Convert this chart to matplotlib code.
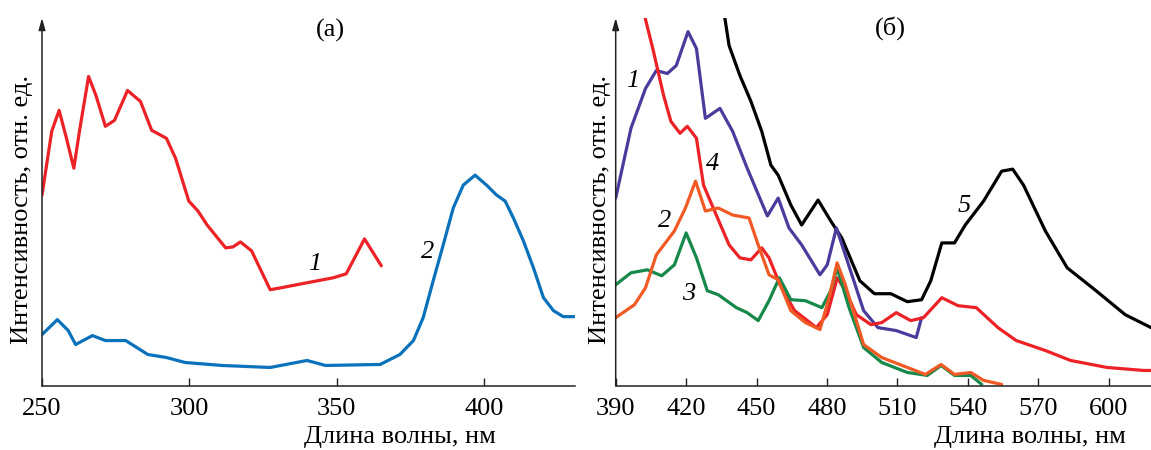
import matplotlib
matplotlib.use("Agg")
import matplotlib.pyplot as plt

plt.rcParams['font.family'] = ['Liberation Serif', 'DejaVu Serif']

# ---------- Panel (а) data ----------
a1_x = [250, 253.3, 255.8, 258.3, 260.8, 262.7, 265.8, 268.3, 271.5, 274.6, 279, 283.4,
        287.2, 292.2, 295.3, 299.8, 302.9, 306, 312.3, 314.8, 317.3, 321.1, 327.4, 331.1,
        339.9, 348.8, 353.2, 359.4, 365.1]
a1_y = [190, 254, 275, 247, 217, 254, 309, 290, 259, 265, 295, 284,
        255, 247, 227, 184, 174, 160, 137, 138, 143, 134, 95, 97,
        102, 107, 111, 146, 119]

a2_x = [250, 255.2, 258.9, 261.4, 267.1, 271.5, 278.4, 285.9, 292.2, 298.5, 311.1, 327.4,
        339.9, 346.2, 364.7, 371.4, 376, 379.3, 382.7, 386.1, 389.5, 392.9, 396.9, 400.8,
        404.2, 407.1, 409.9, 413.3, 416.7, 420.1, 423.5, 426.8, 430.5]
a2_y = [50, 65, 54, 40, 49, 44, 44, 30, 27, 22, 19, 17,
        24, 19, 20, 30, 44, 67, 104, 140, 177, 200, 210, 200,
        190, 184, 167, 144, 117, 87, 74, 68, 68]

# ---------- Panel (б) data ----------
b1_x = [390, 396.5, 402.7, 407.3, 412, 415.8, 420.8, 424.4, 428.2, 434.4, 439.8, 446,
        454.6, 459.2, 463.8, 469.2, 477, 480.1, 484, 487.8, 495.6, 501.7, 509.5, 518, 520.3]
b1_y = [187, 257, 297, 315, 312, 320, 354, 337, 267, 277, 254, 217,
        169, 187, 157, 140, 110, 120, 157, 130, 74, 57, 54, 47, 67]

b2_x = [390, 398, 402.7, 407.3, 415, 419.7, 424, 428.2, 433.7, 439.8, 446.8, 450.7,
        455.3, 459.2, 464.6, 470.8, 477, 480.9, 484.3, 487.8, 495.6, 503.3, 514.2, 521.9,
        528.6, 534.3, 541.2, 546.7, 554.4]
b2_y = [67, 80, 97, 130, 154, 177, 204, 174, 177, 170, 167, 140,
        110, 105, 74, 62, 55, 87, 122, 100, 40, 27, 17, 10,
        20, 10, 12, 4, 0]

b3_x = [390, 396.5, 403.5, 409.6, 415, 420, 424.4, 429, 433.7, 441.4, 446, 450.7,
        455.3, 459.7, 464.6, 470.8, 477.8, 481.6, 484.3, 489.4, 495.6, 503.3, 514.2, 522.7,
        528.6, 534.3, 541.2, 545.9]
b3_y = [100, 112, 115, 109, 120, 152, 127, 94, 90, 77, 72, 64,
        84, 107, 85, 84, 77, 94, 117, 77, 37, 22, 12, 9,
        19, 9, 9, 0]

b4_x = [402.4, 405.8, 410.4, 413.5, 417.4, 420.5, 424.4, 427.4, 432.1, 438.3, 442.9, 447.6,
        452.2, 455.3, 460, 466.2, 475.5, 480.1, 484.4, 487.8, 492.5, 498.7, 503.3, 509.5,
        515.7, 521.1, 528.9, 535.8, 543.6, 552.8, 560.6, 573, 583.8, 599.3, 614.8, 618]
b4_y = [369, 337, 290, 264, 252, 259, 247, 200, 174, 140, 127, 125,
        137, 127, 100, 74, 57, 70, 107, 94, 70, 60, 62, 72,
        64, 67, 87, 79, 77, 57, 44, 34, 24, 17, 14, 14]

b5_x = [436.4, 438.3, 442.9, 447.6, 452.2, 456.1, 459.2, 464.6, 469.2, 476.2, 481.6, 486.3,
        494, 500.2, 507.2, 514.2, 520.3, 524.2, 528.9, 534.3, 538.9, 546.7, 554.4, 559.1,
        563.7, 573, 582.3, 594.6, 607, 618]
b5_y = [369, 340, 310, 284, 254, 220, 210, 180, 160, 185, 164, 147,
        104, 91, 91, 83, 85, 104, 142, 142, 160, 184, 214, 216,
        200, 154, 117, 94, 70, 57]

a_ticks = [250, 300, 350, 400]
b_ticks = [390, 420, 450, 480, 510, 540, 570, 600]
xlabel = "Длина волны, нм"
ylabel = "Интенсивность, отн. ед."

RED = "#EC2227"
BLUE = "#0A72BA"
PURPLE = "#4A3C9C"
ORANGE = "#F15A24"
GREEN = "#16884A"
BLACK = "#000000"

W, H = 1151, 450
fig = plt.figure(figsize=(W / 100, H / 100), dpi=100)

def make_ax(left_px, right_px, xlim, ticks):
    bottom_px, top_px = 385.7, 18
    ax = fig.add_axes([left_px / W, 1 - bottom_px / H, (right_px - left_px) / W,
                       (bottom_px - top_px) / H])
    ax.set_xlim(*xlim)
    ax.set_ylim(-1.3, 367.7)
    for s in ['top', 'right', 'left']:
        ax.spines[s].set_visible(False)
    ax.spines['bottom'].set_linewidth(1.1)
    ax.spines['bottom'].set_color('#222222')
    ax.set_xticks(ticks)
    ax.set_yticks([])
    ax.tick_params(axis='x', direction='in', length=6, width=1.0, color='#222222',
                   labelsize=19, pad=9)
    ax.annotate('', xy=(0, 1.0), xytext=(0, 0), xycoords='axes fraction',
                arrowprops=dict(arrowstyle='-|>,head_length=0.7,head_width=0.2',
                                color='#222222', lw=1.1, shrinkA=0, shrinkB=0))
    return ax

ax1 = make_ax(42, 575, (250, 430.8), a_ticks)
ax2 = make_ax(615.7, 1151, (390, 618), b_ticks)

lw = 2.3
kw = dict(lw=lw, solid_joinstyle='round', solid_capstyle='round')
ax1.plot(a1_x, a1_y, color=RED, **kw)
ax1.plot(a2_x, a2_y, color=BLUE, **kw)

ax2.plot(b5_x, b5_y, color=BLACK, **kw)
ax2.plot(b1_x, b1_y, color=PURPLE, **kw)
ax2.plot(b4_x, b4_y, color=RED, **kw)
ax2.plot(b3_x, b3_y, color=GREEN, **kw)
ax2.plot(b2_x, b2_y, color=ORANGE, **kw)

lab = dict(fontsize=19, style='italic', ha='center', va='center')
ax1.text(342.5, 121, "1", **lab)
ax1.text(380.9, 133, "2", **lab)
ax2.text(397.3, 304, "1", **lab)
ax2.text(431.4, 221, "4", **lab)
ax2.text(410.8, 164, "2", **lab)
ax2.text(421.0, 91, "3", **lab)
ax2.text(538.4, 179, "5", **lab)

fig.text(330 / W, 1 - 30 / H, "(а)", fontsize=19, ha='center', va='center')
fig.text(890 / W, 1 - 28 / H, "(б)", fontsize=19, ha='center', va='center')

fig.text(22 / W, 1 - 209 / H, ylabel, rotation=90, fontsize=19, ha='center', va='center')
fig.text(600 / W, 1 - 209 / H, ylabel, rotation=90, fontsize=19, ha='center', va='center')
fig.text(400 / W, 1 - 437 / H, xlabel, fontsize=19, ha='center', va='center')
fig.text(1030 / W, 1 - 437 / H, xlabel, fontsize=19, ha='center', va='center')

fig.savefig("out.png", dpi=100)
